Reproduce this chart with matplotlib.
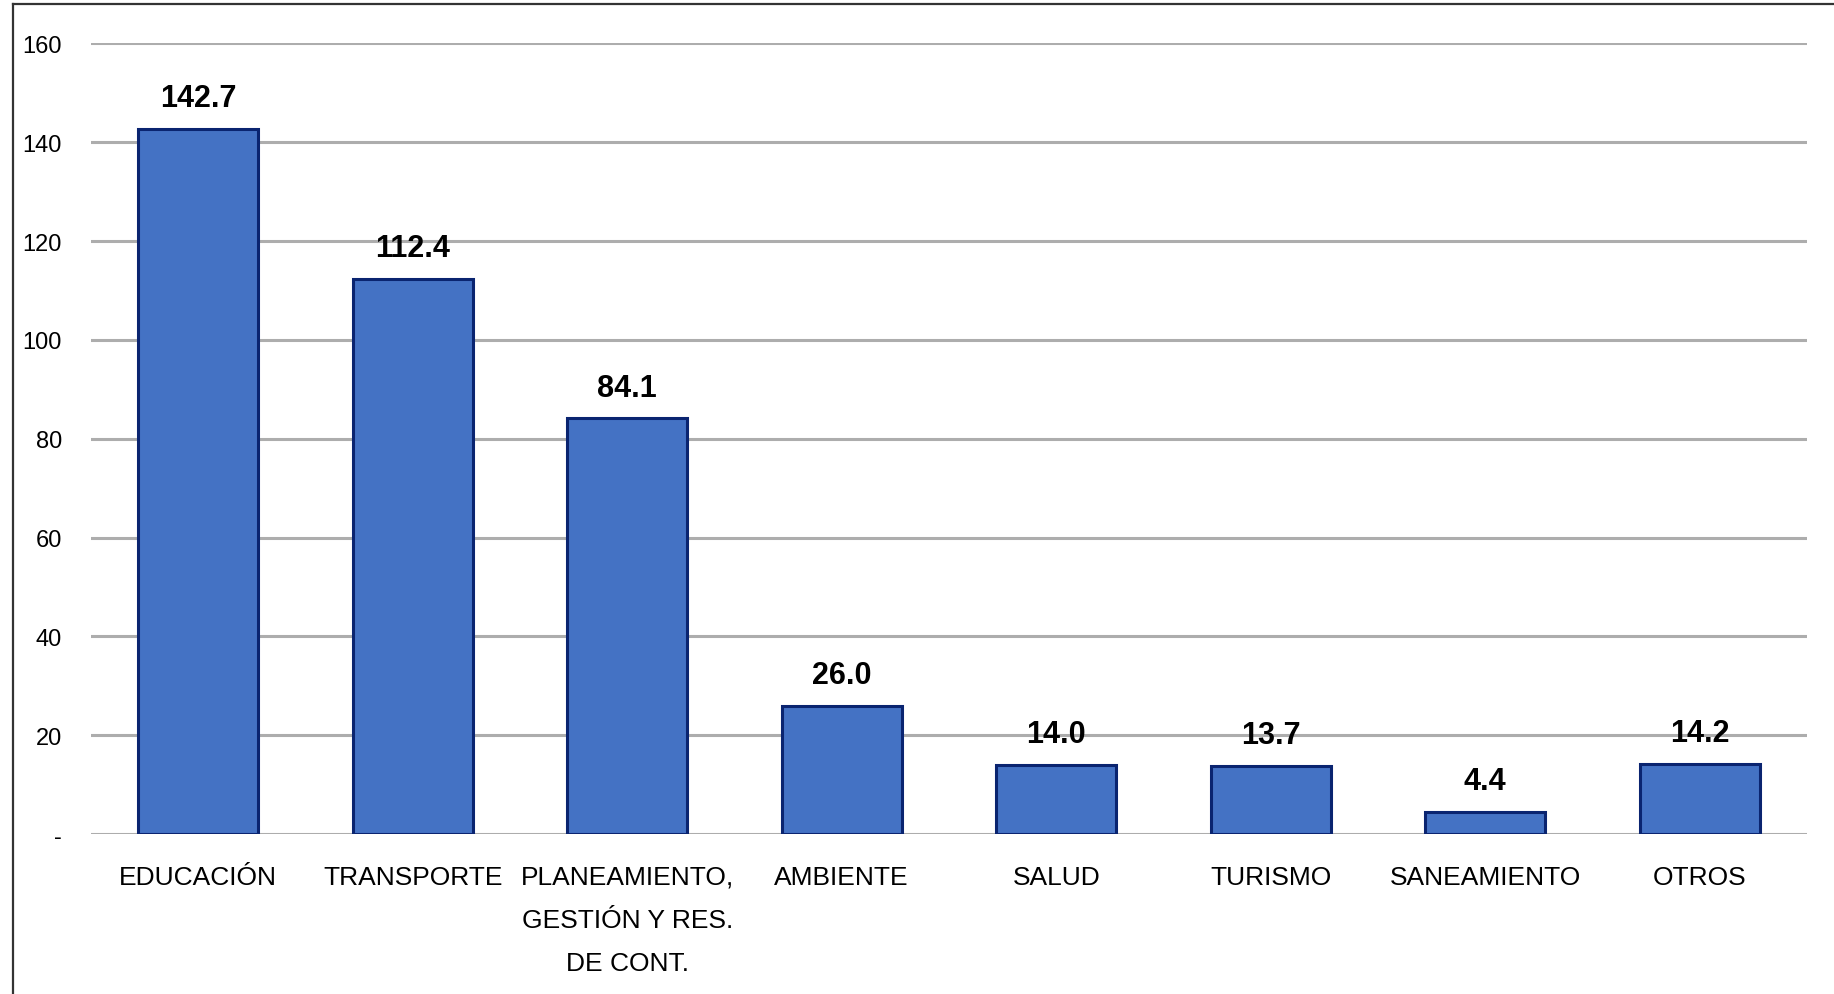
import matplotlib.pyplot as plt
from matplotlib.lines import Line2D

categories = ["EDUCACIÓN", "TRANSPORTE", "PLANEAMIENTO,\nGESTIÓN Y RES.\nDE CONT.",
              "AMBIENTE", "SALUD", "TURISMO", "SANEAMIENTO", "OTROS"]
values = [142.7, 112.4, 84.1, 26.0, 14.0, 13.7, 4.4, 14.2]
yticks = [0, 20, 40, 60, 80, 100, 120, 140, 160]
ytick_labels = ["-", "20", "40", "60", "80", "100", "120", "140", "160"]

plt.rcParams["font.family"] = ["Liberation Sans", "DejaVu Sans"]

fig = plt.figure(figsize=(18.34, 9.95), dpi=100)
ax = fig.add_axes([0.0496, 0.1608, 0.9357, 0.7945])

x = list(range(len(categories)))
bars = ax.bar(x, values, width=0.56, color="#4472C4", edgecolor="#0A2470",
              linewidth=2.2, zorder=3)

for xi, v in zip(x, values):
    ax.annotate(f"{v:.1f}", (xi, v), xytext=(0, 16.5), textcoords="offset points",
                ha="center", va="baseline", fontsize=22, fontweight="bold",
                color="black", zorder=4)

ax.set_xlim(-0.5, len(categories) - 0.5)
ax.set_ylim(0, 160)
ax.set_yticks(yticks)
ax.set_yticklabels(ytick_labels, fontsize=17)
ax.set_xticks(x)
ax.set_xticklabels(categories, fontsize=19, linespacing=2.0)
ax.tick_params(axis="both", length=0)
ax.tick_params(axis="y", pad=21)
ax.tick_params(axis="x", pad=22)

ax.grid(axis="y", color="#ADADAD", linewidth=2.2, zorder=0)
ax.set_axisbelow(True)
for side in ["top", "right", "left", "bottom"]:
    ax.spines[side].set_visible(False)

# outer frame (only top and left visible in the reference)
fig.add_artist(Line2D([0.0071, 0.0071], [0.995, 0.0], transform=fig.transFigure,
                      color="#333333", linewidth=1.6))
fig.add_artist(Line2D([0.0071, 1.0], [0.995, 0.995], transform=fig.transFigure,
                      color="#333333", linewidth=1.6))

plt.savefig("out.png", dpi=100)
